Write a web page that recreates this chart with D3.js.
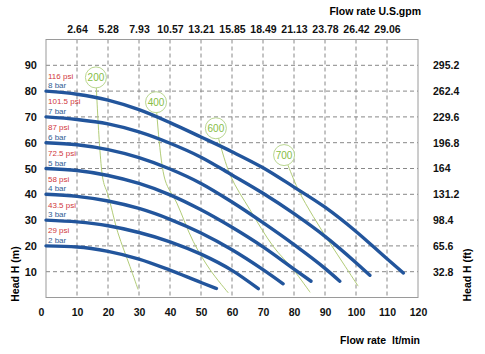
<!DOCTYPE html>
<html>
<head>
<meta charset="utf-8">
<script src="https://cdn.jsdelivr.net/npm/d3@7"></script>
<style>
  body { margin: 0; background: #fff; }
  svg { display: block; }
</style>
</head>
<body>
<svg></svg>
<script>
// axis values
const flowTicks = [0, 10, 20, 30, 40, 50, 60, 70, 80, 90, 100, 110, 120];
const gpmLabels = ["2.64", "5.28", "7.93", "10.57", "13.21", "15.85", "18.49", "21.13", "23.78", "26.42", "29.06"];
const headTicks = [10, 20, 30, 40, 50, 60, 70, 80, 90];
const ftLabels = ["32.8", "65.6", "98.4", "131.2", "164", "196.8", "229.6", "262.4", "295.2"];

// pressure curves, [flow lt/min, head m]
const barLabels = ["2 bar", "3 bar", "4 bar", "5 bar", "6 bar", "7 bar", "8 bar"];
const psiLabels = ["29 psi", "43.5 psi", "58 psi", "72.5 psi", "87 psi", "101.5 psi", "116 psi"];
const startHead = [20, 30, 40, 50, 60, 70, 80];
const curve2 = [[0, 20], [10, 19.6], [20, 17.9], [30, 14.9], [40, 10.6], [50, 5.8], [55, 3.5]];
const curve3 = [[0, 30], [10, 29.3], [20, 27.8], [30, 25.2], [40, 21.6], [50, 16.8], [60, 10.5], [68.5, 3.4]];
const curve4 = [[0, 40], [10, 39.2], [20, 37.4], [30, 34.5], [40, 30.3], [50, 25], [60, 18.5], [70, 10.8], [76.5, 5.3]];
const curve5 = [[0, 50], [10, 49.2], [20, 47.3], [30, 44.2], [40, 39.8], [50, 34], [60, 27.2], [70, 19.6], [80, 11], [85.5, 6.3]];
const curve6 = [[0, 60], [10, 59.2], [20, 57.3], [30, 54.2], [40, 49.8], [50, 44.2], [60, 37], [70, 29], [80, 20.5], [90, 11.3], [94.8, 6.3]];
const curve7 = [[0, 70], [10, 69], [20, 67.3], [30, 64.2], [40, 59.8], [50, 54.4], [60, 47.5], [70, 40.4], [80, 32.5], [90, 23.7], [100, 13.5], [104.5, 8.6]];
const curve8 = [[0, 80], [10, 78.8], [20, 76.5], [30, 72.8], [40, 67.8], [50, 62.2], [60, 56.5], [70, 50.3], [80, 42.8], [90, 35], [100, 25.6], [110, 15], [115.3, 9.5]];
const curves = [curve2, curve3, curve4, curve5, curve6, curve7, curve8];

// green iso lines (label circle first)
const isoNames = ["200", "400", "600", "700"];
const iso200 = [[16.1, 85.3], [18.4, 45.6], [20, 39.8], [23.2, 25.1], [27.1, 12], [29.7, 3.1]];
const iso400 = [[35.5, 75.7], [38.4, 45.6], [42.2, 36.6], [47.5, 21.7], [52.9, 10.8], [58.8, 1.8]];
const iso600 = [[54.8, 65.6], [59.4, 47.5], [65.8, 34], [73.3, 19.8], [79.8, 10.8], [85.2, 2]];
const iso700 = [[76.8, 55.2], [81.4, 41.7], [86.2, 31.4], [91.6, 21.1], [96.5, 12.1], [100.7, 4.4]];
const isoLines = [iso200, iso400, iso600, iso700];

const width = 485, height = 354;
const plot = { left: 46, right: 418, top: 39.5, bottom: 297.5 };
const font = "'Liberation Sans', Arial, sans-serif";

const svg = d3.select("svg")
    .attr("width", width)
    .attr("height", height)
    .style("font-family", font);

const x = d3.scaleLinear().domain([0, 120]).range([plot.left, plot.right]);
const y = d3.scaleLinear().domain([0, 100]).range([plot.bottom, plot.top]);

// grid
svg.append("g")
    .selectAll("line")
    .data(flowTicks.slice(1, -1))
    .join("line")
    .attr("x1", d => x(d)).attr("x2", d => x(d))
    .attr("y1", plot.top).attr("y2", plot.bottom)
    .attr("stroke", "#888")
    .attr("stroke-dasharray", "4,3");

svg.append("g")
    .selectAll("line")
    .data(headTicks)
    .join("line")
    .attr("x1", plot.left).attr("x2", plot.right)
    .attr("y1", d => y(d)).attr("y2", d => y(d))
    .attr("stroke", "#888")
    .attr("stroke-dasharray", "4,3");

svg.append("rect")
    .attr("x", plot.left).attr("y", plot.top)
    .attr("width", plot.right - plot.left).attr("height", plot.bottom - plot.top)
    .attr("fill", "none")
    .attr("stroke", "#9a9a9a");

// axes
function styleAxis(g) {
    g.select(".domain").remove();
    g.selectAll("line").remove();
    g.selectAll("text")
        .attr("font-family", font)
        .attr("font-size", "10.5px")
        .attr("font-weight", "bold")
        .attr("fill", "#111");
}

svg.append("g")
    .attr("transform", `translate(0,${plot.bottom + 8})`)
    .call(d3.axisBottom(x).tickValues(flowTicks).tickSize(0).tickFormat(d3.format("d")))
    .call(styleAxis)
    .call(g => g.selectAll("text").filter(d => d === 0).attr("dx", -5));

svg.append("g")
    .attr("transform", `translate(0,${plot.top - 4})`)
    .call(d3.axisTop(x).tickValues(flowTicks.slice(1, -1)).tickSize(0)
        .tickFormat((d, i) => gpmLabels[i]))
    .call(styleAxis);

svg.append("g")
    .attr("transform", `translate(${plot.left - 6},0)`)
    .call(d3.axisLeft(y).tickValues(headTicks).tickSize(0).tickFormat(d3.format("d")))
    .call(styleAxis)
    .call(g => g.selectAll("text").attr("font-size", "11px"));

svg.append("g")
    .attr("transform", `translate(${plot.right + 12},0)`)
    .call(d3.axisRight(y).tickValues(headTicks).tickSize(0)
        .tickFormat((d, i) => ftLabels[i]))
    .call(styleAxis);

// titles
svg.append("text")
    .attr("x", 421).attr("y", 15)
    .attr("text-anchor", "end")
    .attr("font-size", "10.5px").attr("font-weight", "bold")
    .text("Flow rate U.S.gpm");

svg.append("text")
    .attr("x", 420).attr("y", 344)
    .attr("text-anchor", "end")
    .attr("font-size", "10.5px").attr("font-weight", "bold")
    .style("white-space", "pre")
    .text("Flow rate  lt/min");

svg.append("text")
    .attr("transform", "translate(19,274) rotate(-90)")
    .attr("text-anchor", "middle")
    .attr("font-size", "10.5px").attr("font-weight", "bold")
    .text("Head H (m)");

svg.append("text")
    .attr("transform", "translate(471,275) rotate(-90)")
    .attr("text-anchor", "middle")
    .attr("font-size", "10.5px").attr("font-weight", "bold")
    .text("Head H (ft)");

// iso lines
const isoLine = d3.line()
    .x(d => x(d[0]))
    .y(d => y(d[1]))
    .curve(d3.curveCatmullRom);

svg.append("g")
    .selectAll("path")
    .data(isoLines)
    .join("path")
    .attr("d", isoLine)
    .attr("fill", "none")
    .attr("stroke", "#b2cc78")
    .attr("stroke-width", 1);

// pressure curves
const line = d3.line()
    .x(d => x(d[0]))
    .y(d => y(d[1]))
    .curve(d3.curveMonotoneX);

svg.append("g")
    .selectAll("path")
    .data(curves)
    .join("path")
    .attr("d", line)
    .attr("fill", "none")
    .attr("stroke", "#22559c")
    .attr("stroke-width", 3.4)
    .attr("stroke-linecap", "round");

// iso labels
const badge = svg.append("g")
    .selectAll("g")
    .data(isoLines)
    .join("g")
    .attr("transform", d => `translate(${x(d[0][0])},${y(d[0][1])})`);

badge.append("circle")
    .attr("r", 10.5)
    .attr("fill", "#fff")
    .attr("stroke", "#b9d690")
    .attr("stroke-width", 1);

badge.append("text")
    .attr("y", 3.5)
    .attr("text-anchor", "middle")
    .attr("font-size", "10px")
    .attr("fill", "#86bd45")
    .text((d, i) => isoNames[i]);

// pressure labels
svg.append("g")
    .selectAll("text")
    .data(startHead)
    .join("text")
    .attr("x", 48)
    .attr("y", d => y(d) - 3)
    .attr("font-size", "8px")
    .attr("fill", "#2f5d93")
    .text((d, i) => barLabels[i]);

svg.append("g")
    .selectAll("text")
    .data(startHead)
    .join("text")
    .attr("x", 48)
    .attr("y", d => y(d) - 12.5)
    .attr("font-size", "8px")
    .attr("fill", "#d0383c")
    .text((d, i) => psiLabels[i]);
</script>
</body>
</html>
